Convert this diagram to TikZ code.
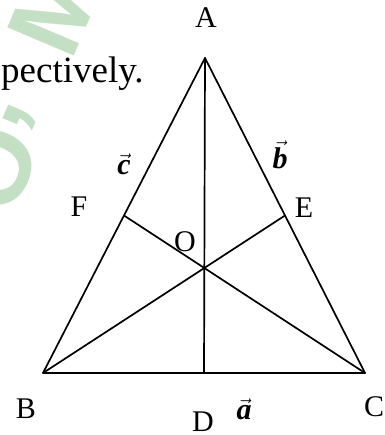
\documentclass[tikz,border=0pt]{standalone}
\usepackage{fontspec}
\setmainfont{Liberation Serif}
\newfontfamily\markfont{Liberation Sans}
\definecolor{wmgreen}{RGB}{196,224,196}
\usetikzlibrary{calc}
\newcommand{\bvec}[1]{\ensuremath{\vec{\mbox{\bfseries\itshape #1}}}}

\begin{document}
\begin{tikzpicture}[x=1pt, y=-1pt,
    side/.style={line width=1.7pt, line join=round, line cap=round},
    vlabel/.style={inner sep=0pt, font=\fontsize{30}{34}\selectfont},
    wmark/.style={inner sep=0pt, text=wmgreen, rotate=67,
      font=\markfont\bfseries\fontsize{105}{105}\selectfont}
  ]
    \useasboundingbox (0,0) rectangle (384,435);
    % Watermark
    \node[wmark] (w1) at (-6,168) {O};
    \node[wmark] (w2) at (20,118) {,};
    \node[wmark] (w3) at (55,8) {M};
    % Cut text
    \node[anchor=base west, inner sep=0pt, font=\fontsize{37}{40}\selectfont] (txt) at (1,83) {pectively.};
    % Vertices
    \coordinate (A) at (205,58);
    \coordinate (B) at (43,373);
    \coordinate (C) at (365,373);
    \coordinate (D) at ($(B)!0.5!(C)$);
    \coordinate (E) at ($(A)!0.5!(C)$);
    \coordinate (F) at ($(A)!0.5!(B)$);
    \coordinate (O) at ($(A)!2/3!(D)$);
    % Triangle and medians
    \draw[side] (A) -- (B) -- (C) -- cycle;
    \draw[side] (A) -- (D);
    \draw[side] (B) -- (E);
    \draw[side] (C) -- (F);
    % Labels
    \node[vlabel] (lA) at (206,18) {A};
    \node[vlabel] (lB) at (26,409) {B};
    \node[vlabel] (lC) at (374,407) {C};
    \node[vlabel] (lD) at (203,422) {D};
    \node[vlabel] (lE) at (304,208) {E};
    \node[vlabel] (lF) at (79,207) {F};
    \node[vlabel] (lO) at (185,242) {O};
    \node[vlabel] (la) at (244,409) {\bvec{a}};
    \node[vlabel] (lb) at (280,155) {\bvec{b}};
    \node[vlabel] (lc) at (124,164) {\bvec{c}};
\end{tikzpicture}
\end{document}
